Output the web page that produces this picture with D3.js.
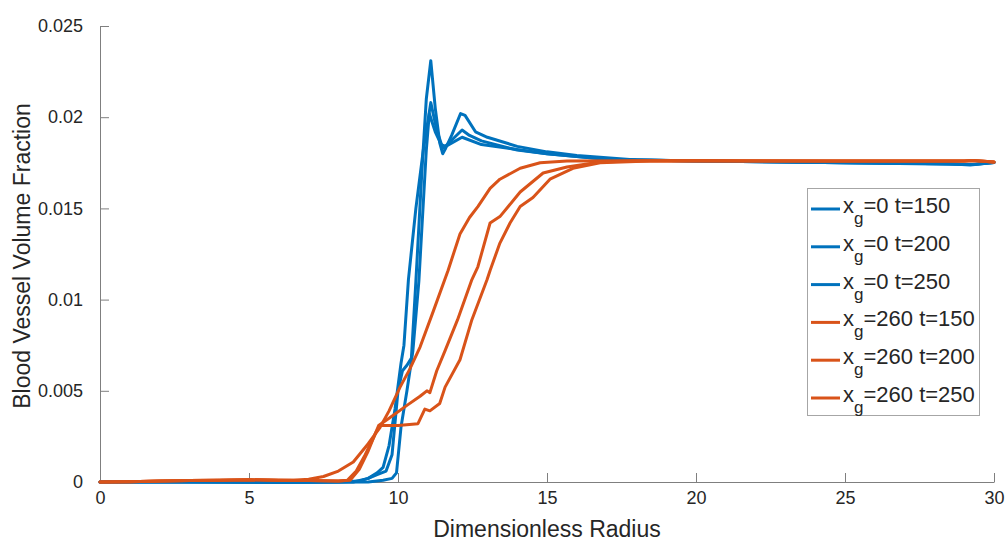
<!DOCTYPE html>
<html>
<head>
<meta charset="utf-8">
<script src="https://cdn.jsdelivr.net/npm/d3@7/dist/d3.min.js"></script>
<style>
  html, body { margin: 0; padding: 0; background: #fff; }
  svg { display: block; font-family: "Liberation Sans", Arial, Helvetica, sans-serif; }
</style>
</head>
<body>
<svg id="chart" width="1006" height="543"></svg>
<script>
// Radial profiles of blood vessel volume fraction: [radius, fraction]
const xg0_t150 = [[0,0],[2,0],[4,0],[6,-0.00003],[8,0],[8.7,0.00005],[9.0,0.0002],[9.3,0.0004],[9.6,0.0006],[9.8,0.0015],[10.0,0.005],[10.15,0.0061],[10.3,0.0064],[10.45,0.0068],[10.6,0.011],[10.8,0.017],[10.95,0.021],[11.1,0.0231],[11.25,0.0205],[11.4,0.0186],[11.5,0.018],[11.6,0.0183],[11.8,0.019],[12.1,0.0202],[12.25,0.0201],[12.6,0.0192],[13.0,0.0189],[14,0.0184],[15,0.0181],[16,0.0179],[18,0.01765],[20,0.0176],[25,0.0175],[28.5,0.01745],[29.2,0.01738],[30,0.01752]];
const xg0_t200 = [[0,0],[3,0],[6,-0.00002],[8.5,0],[9.0,0.0002],[9.3,0.0005],[9.5,0.0008],[9.7,0.002],[9.9,0.004],[10.1,0.0065],[10.2,0.0075],[10.35,0.0111],[10.6,0.015],[10.85,0.0182],[11.1,0.0208],[11.3,0.0193],[11.5,0.0183],[11.65,0.0185],[11.9,0.0189],[12.15,0.0193],[12.4,0.019],[12.8,0.0187],[14,0.0182],[15,0.018],[17,0.0177],[20,0.0176],[25,0.0175],[28.6,0.01742],[29.3,0.0174],[30,0.01752]];
const xg0_t250 = [[0,0],[3,0],[6,-0.00002],[9.0,0],[9.5,0.0001],[9.8,0.0002],[9.95,0.0005],[10.1,0.003],[10.3,0.005],[10.5,0.0072],[10.7,0.011],[10.95,0.0182],[11.05,0.0202],[11.25,0.0192],[11.45,0.0185],[11.6,0.0184],[12.15,0.0189],[12.8,0.0185],[15,0.018],[17,0.0177],[20,0.0176],[25,0.0175],[28.5,0.01745],[29.2,0.0174],[30,0.01752]];
const xg260_t150 = [[0,0],[1,0.00002],[2,0.00005],[3,0.00008],[4,0.0001],[5,0.00012],[6,0.0001],[6.5,0.0001],[7,0.00015],[7.5,0.0003],[8,0.0006],[8.5,0.0011],[9,0.0021],[9.4,0.003],[9.7,0.0039],[10.07,0.0052],[10.4,0.0062],[10.74,0.0074],[11.17,0.0093],[11.68,0.0116],[12.08,0.0136],[12.4,0.0145],[12.68,0.0151],[13.09,0.0161],[13.42,0.0166],[14.1,0.0172],[14.77,0.0175],[15.67,0.0176],[20,0.01762],[25,0.0176],[29,0.0176],[29.3,0.01762],[30,0.01754]];
const xg260_t200 = [[0,0],[1,0.00002],[2,0.00005],[3,0.00008],[4,0.0001],[5,0.00012],[6,0.0001],[7,0.00008],[8,0.00005],[8.3,0.0001],[8.6,0.0006],[8.9,0.0015],[9.2,0.0025],[9.35,0.0031],[9.7,0.0035],[10.3,0.0042],[10.74,0.0047],[10.97,0.005],[11.07,0.0049],[11.3,0.0061],[11.58,0.0072],[12.0,0.0089],[12.48,0.0111],[12.68,0.0118],[13.09,0.0142],[13.42,0.01455],[13.7,0.0151],[14.1,0.0159],[14.87,0.01694],[15.67,0.01727],[16.78,0.01754],[17.9,0.0176],[25,0.0176],[29,0.0176],[29.3,0.01762],[30,0.01754]];
const xg260_t250 = [[0,0],[1,0.00002],[2,0.00005],[3,0.00008],[4,0.0001],[5,0.00012],[6,0.0001],[7,0.00008],[8,0.00005],[8.4,0.0001],[8.7,0.0007],[9.0,0.0017],[9.25,0.0027],[9.4,0.0031],[10.0,0.0031],[10.67,0.0032],[10.9,0.004],[11.07,0.0039],[11.4,0.0043],[11.58,0.0052],[12.08,0.0067],[12.48,0.0089],[12.99,0.0111],[13.09,0.0116],[13.42,0.0131],[13.76,0.0142],[14.1,0.0151],[14.53,0.0156],[15.1,0.0166],[15.87,0.0172],[16.78,0.0175],[18.46,0.0176],[25,0.0176],[29,0.0176],[29.3,0.01762],[30,0.01754]];

const seriesData = [xg0_t150, xg0_t200, xg0_t250, xg260_t150, xg260_t200, xg260_t250];
const seriesGroup = ["0", "0", "0", "260", "260", "260"];
const seriesTime = ["150", "200", "250", "150", "200", "250"];
const groupColor = { "0": "#0072BD", "260": "#D95319" };

const xTicks = [0, 5, 10, 15, 20, 25, 30];
const yTicks = [0, 0.005, 0.01, 0.015, 0.02, 0.025];
const xTitle = "Dimensionless Radius";
const yTitle = "Blood Vessel Volume Fraction";

const svg = d3.select("#chart");
const x = d3.scaleLinear().domain([0, 30]).range([100, 994]);
const y = d3.scaleLinear().domain([0, 0.025]).range([482, 26]);

const axisColor = "#7f7f7f";
const textColor = "#262626";

// Axes with inward ticks
const gx = svg.append("g").attr("transform", `translate(0,${y(0)})`)
  .call(d3.axisBottom(x).tickValues(xTicks).tickFormat(d3.format("d")).tickSizeInner(-9).tickSizeOuter(0));
const gy = svg.append("g").attr("transform", `translate(${x(0)},0)`)
  .call(d3.axisLeft(y).tickValues(yTicks).tickFormat(d => d === 0 ? "0" : String(+d.toFixed(3))).tickSizeInner(-9).tickSizeOuter(0).tickPadding(17));
[gx, gy].forEach(g => {
  g.select(".domain").attr("stroke", axisColor).attr("stroke-width", 1);
  g.selectAll(".tick line").attr("stroke", axisColor).attr("stroke-width", 1);
  g.selectAll(".tick text").attr("fill", textColor).attr("font-size", 18)
    .attr("font-family", "'Liberation Sans', Arial, sans-serif");
});
// x tick labels: baseline placed just below the axis
gx.selectAll(".tick text").attr("y", 21.5).attr("dy", null);

// Axis titles
svg.append("text").attr("x", (x(0) + x(30)) / 2).attr("y", 537)
  .attr("text-anchor", "middle").attr("font-size", 23).attr("fill", textColor).text(xTitle);
svg.append("text").attr("transform", `translate(30,256) rotate(-90)`)
  .attr("text-anchor", "middle").attr("font-size", 23).attr("fill", textColor).text(yTitle);

// Profile lines
const line = d3.line().x(d => x(d[0])).y(d => y(d[1]));
svg.append("g").selectAll("path").data(seriesData).join("path")
  .attr("d", line)
  .attr("fill", "none")
  .attr("stroke", (d, i) => groupColor[seriesGroup[i]])
  .attr("stroke-width", 3)
  .attr("stroke-linejoin", "round")
  .attr("stroke-linecap", "round");

// Legend
const legend = svg.append("g");
legend.append("rect").attr("x", 807.5).attr("y", 188.5).attr("width", 172).attr("height", 227)
  .attr("fill", "#fff").attr("stroke", "#a6a6a6").attr("stroke-width", 1);
seriesData.forEach((d, i) => {
  const ly = 209 + i * 37.8;
  legend.append("line").attr("x1", 811).attr("x2", 840).attr("y1", ly).attr("y2", ly)
    .attr("stroke", groupColor[seriesGroup[i]]).attr("stroke-width", 3);
  const t = legend.append("text").attr("x", 843).attr("y", ly + 4).attr("font-size", 22).attr("fill", textColor);
  t.append("tspan").text("x");
  t.append("tspan").attr("dy", 11).attr("font-size", 17).text("g");
  t.append("tspan").attr("dy", -11).text(`=${seriesGroup[i]} t=${seriesTime[i]}`);
});
</script>
</body>
</html>
